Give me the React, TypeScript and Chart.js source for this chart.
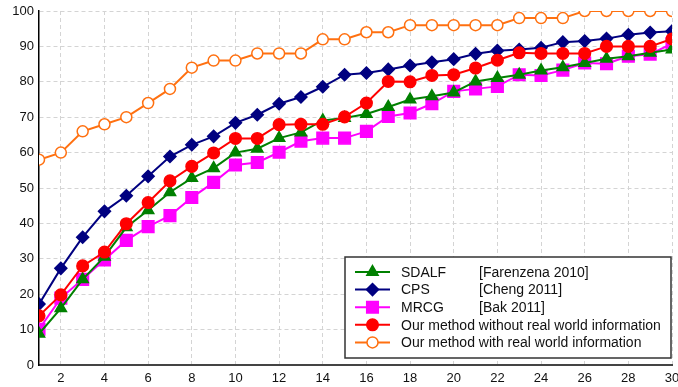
import { useEffect, useRef } from "react";
import { Chart, registerables } from "chart.js";

Chart.register(...registerables);

const ranks = [1, 2, 3, 4, 5, 6, 7, 8, 9, 10, 11, 12, 13, 14, 15, 16, 17, 18, 19, 20, 21, 22, 23, 24, 25, 26, 27, 28, 29, 30];
const sdalf = [8.8, 16.0, 24.2, 30.6, 38.9, 43.7, 48.8, 52.8, 55.6, 60.0, 61.1, 64.1, 65.7, 69.1, 69.8, 70.9, 72.9, 75.0, 75.9, 77.0, 80.1, 81.1, 82.0, 83.2, 84.1, 85.3, 86.5, 87.2, 88.2, 89.1];
const cps = [17.2, 27.3, 36.1, 43.4, 47.8, 53.3, 58.9, 62.2, 64.6, 68.4, 70.7, 73.8, 75.7, 78.6, 82.0, 82.5, 83.5, 84.6, 85.5, 86.4, 87.9, 88.8, 89.1, 89.6, 91.2, 91.5, 92.2, 93.3, 93.9, 94.3];
const mrcg = [10.1, 18.9, 24.2, 29.7, 35.2, 39.1, 42.2, 47.3, 51.6, 56.5, 57.2, 60.1, 63.2, 64.1, 64.1, 66.0, 70.2, 71.2, 73.8, 77.3, 78.0, 78.7, 82.0, 81.8, 83.3, 85.3, 85.1, 87.2, 87.8, 90.8];
const oursWithout = [13.9, 19.8, 28.0, 31.9, 39.9, 45.9, 52.0, 56.1, 59.9, 64.0, 64.0, 67.9, 68.0, 68.0, 70.1, 74.0, 80.1, 80.0, 81.8, 82.0, 83.9, 86.1, 88.2, 88.0, 88.0, 88.0, 90.0, 90.0, 90.0, 92.1];
const oursWith = [58, 60, 66, 68, 70, 74, 78, 84, 86, 86, 88, 88, 88, 92, 92, 94, 94, 96, 96, 96, 96, 96, 98, 98, 98, 100, 100, 100, 100, 100];

const xTickValues = [2, 4, 6, 8, 10, 12, 14, 16, 18, 20, 22, 24, 26, 28, 30];
const yTickValues = [0, 10, 20, 30, 40, 50, 60, 70, 80, 90, 100];

const seriesNames = [
  "SDALF",
  "CPS",
  "MRCG",
  "Our method without real world information",
  "Our method with real world information",
];
const seriesRefs = ["[Farenzena 2010]", "[Cheng 2011]", "[Bak 2011]", "", ""];
const seriesValues = [sdalf, cps, mrcg, oursWithout, oursWith];

const FONT = "'Liberation Sans', Arial, sans-serif";

const styles = [
  { color: "#008000", point: "triangle", radius: 6.5, fill: "#008000", order: 2 },
  { color: "#000080", point: "rectRot", radius: 6, fill: "#000080", order: 4 },
  { color: "#ff00ff", point: "rect", radius: 8.2, fill: "#ff00ff", order: 3 },
  { color: "#ff0000", point: "circle", radius: 5.8, fill: "#ff0000", order: 1 },
  { color: "#ff7010", point: "circle", radius: 5.5, fill: "#ffffff", order: 0 },
];

function drawMarker(ctx: CanvasRenderingContext2D, style: string, x: number, y: number, r: number) {
  ctx.beginPath();
  if (style === "triangle") {
    let rad = 0;
    ctx.moveTo(x + Math.sin(rad) * r, y - Math.cos(rad) * r);
    rad += (2 * Math.PI) / 3;
    ctx.lineTo(x + Math.sin(rad) * r, y - Math.cos(rad) * r);
    rad += (2 * Math.PI) / 3;
    ctx.lineTo(x + Math.sin(rad) * r, y - Math.cos(rad) * r);
    ctx.closePath();
  } else if (style === "rectRot") {
    ctx.moveTo(x, y - r);
    ctx.lineTo(x + r, y);
    ctx.lineTo(x, y + r);
    ctx.lineTo(x - r, y);
    ctx.closePath();
  } else if (style === "rect") {
    const s = Math.SQRT1_2 * r;
    ctx.rect(x - s, y - s, 2 * s, 2 * s);
  } else {
    ctx.arc(x, y, r, 0, Math.PI * 2);
  }
}

const legendPlugin = {
  id: "customLegend",
  afterDraw(chart: any) {
    const { ctx, chartArea } = chart;
    const w = 326;
    const h = 101;
    const x0 = chartArea.right - 1 - w;
    const y0 = chartArea.bottom - 7 - h;
    ctx.save();
    ctx.fillStyle = "#ffffff";
    ctx.fillRect(x0, y0, w, h);
    ctx.strokeStyle = "#333333";
    ctx.lineWidth = 1.5;
    ctx.strokeRect(x0, y0, w, h);
    ctx.font = `14px ${FONT}`;
    ctx.textBaseline = "middle";
    ctx.textAlign = "left";
    seriesNames.forEach((name, i) => {
      const st = styles[i];
      const y = y0 + 15 + i * 17.6;
      ctx.strokeStyle = st.color;
      ctx.lineWidth = 2;
      ctx.beginPath();
      ctx.moveTo(x0 + 10, y);
      ctx.lineTo(x0 + 45, y);
      ctx.stroke();
      drawMarker(ctx, st.point, x0 + 27.5, y, st.radius);
      ctx.fillStyle = st.fill;
      ctx.fill();
      ctx.lineWidth = 1.5;
      ctx.stroke();
      ctx.fillStyle = "#111111";
      ctx.fillText(name, x0 + 56, y + 1);
      if (seriesRefs[i]) ctx.fillText(seriesRefs[i], x0 + 134, y + 1);
    });
    ctx.restore();
  },
};

export default function App() {
  const canvasRef = useRef<HTMLCanvasElement | null>(null);

  useEffect(() => {
    if (!canvasRef.current) return;
    const chart = new Chart(canvasRef.current, {
      type: "line",
      data: {
        datasets: seriesValues.map((vals, i) => ({
          label: seriesNames[i],
          data: ranks.map((r, j) => ({ x: r, y: vals[j] })),
          borderColor: styles[i].color,
          backgroundColor: styles[i].fill,
          pointBackgroundColor: styles[i].fill,
          pointBorderColor: styles[i].color,
          pointBorderWidth: 1.5,
          pointStyle: styles[i].point as any,
          pointRadius: styles[i].radius,
          borderWidth: 2,
          tension: 0,
          order: styles[i].order,
        })),
      },
      options: {
        responsive: false,
        animation: false,
        layout: { autoPadding: false, padding: { top: 11, right: 6, left: 0, bottom: 0 } },
        plugins: {
          legend: { display: false },
          tooltip: { enabled: false },
          title: { display: false },
        },
        scales: {
          x: {
            type: "linear",
            min: 1,
            max: 30,
            afterBuildTicks: (s: any) => {
              s.ticks = xTickValues.map((v) => ({ value: v }));
            },
            afterFit: (s: any) => {
              s.height = 22;
              s.paddingLeft = 0;
              s.paddingRight = 0;
            },
            grid: { color: "#d4d4d4", lineWidth: 1, drawTicks: false },
            border: { display: true, color: "#444444", width: 2, dash: [4, 3] },
            ticks: {
              color: "#111111",
              font: { family: FONT, size: 13 },
              padding: 6,
              maxRotation: 0,
              autoSkip: false,
            },
          },
          y: {
            type: "linear",
            min: 0,
            max: 100,
            afterBuildTicks: (s: any) => {
              s.ticks = yTickValues.map((v) => ({ value: v }));
            },
            afterFit: (s: any) => {
              s.width = 39;
              s.paddingTop = 0;
              s.paddingBottom = 0;
            },
            grid: { color: "#d4d4d4", lineWidth: 1, drawTicks: false },
            border: { display: true, color: "#000000", width: 1.5, dash: [4, 3] },
            ticks: {
              color: "#111111",
              font: { family: FONT, size: 13 },
              padding: 5,
              autoSkip: false,
            },
          },
        },
      },
      plugins: [legendPlugin],
    });
    return () => chart.destroy();
  }, []);

  return (
    <div style={{ position: "absolute", left: 0, top: 0, width: 678, height: 387, background: "#fff" }}>
      <canvas ref={canvasRef} width={678} height={387} />
    </div>
  );
}
